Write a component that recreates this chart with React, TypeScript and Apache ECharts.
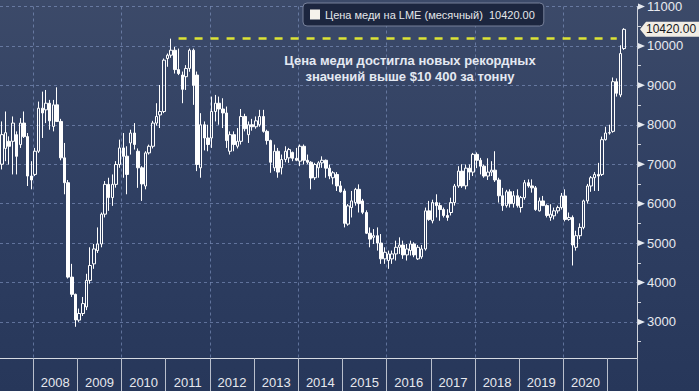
import React, { useEffect, useRef } from 'react';
import * as echarts from 'echarts';

const W = 699;
const H = 391;
const GRID = { left: -2.2, right: 62, top: 4.3, bottom: 33 };
const FONT = '"Liberation Sans", Arial, sans-serif';

// Monthly categories: April 2007 .. August 2021
const START_YEAR = 2007;
const START_MONTH = 4;
const CATEGORY_COUNT = 173;

const SERIES_NAME = 'Цена меди на LME (месячный)';
const NOTE = 'Цена меди достигла новых рекордных\nзначений выше $10 400 за тонну';
const RECORD_LEVEL = 10200;
const RECORD_FROM = '2011-04';
const RECORD_TO = '2021-03';
const Y_TICKS = [3000, 4000, 5000, 6000, 7000, 8000, 9000, 10000, 11000];

// Apr 2007 .. May 2021 (one row per year)
const open = [
  7000, 7400, 7581, 7581, 7750, 7497, 8043, 7700, 6700,
  6741, 7329, 8421, 8379, 8547, 7959, 8505, 8085, 7161, 6531, 4137, 3700,
  3045, 3213, 3381, 4053, 4473, 4809, 4977, 5733, 6489, 6153, 6489, 6993,
  7413, 7203, 7539, 7791, 7329, 6909, 6447, 7287, 7455, 8043, 8250, 8337,
  9681, 9765, 9891, 9400, 9261, 9219, 9429, 9891, 9261, 6909, 8001, 7665,
  7665, 8337, 8547, 8400, 8300, 7329, 7749, 7455, 7581, 8211, 7749, 8001,
  7950, 8001, 8211, 7833, 7600, 6909, 7329, 6909, 7119, 7161, 7300, 7150,
  7077, 7455, 7100, 7050, 6657, 6909, 7035, 7100, 6900, 6657, 6740, 6450,
  6321, 5481, 5901, 6027, 6363, 6069, 5775, 5250, 5145, 5187, 5000, 4599,
  4557, 4599, 4725, 4893, 4950, 4700, 4809, 4977, 4599, 4650, 4850, 5817,
  5565, 6027, 5950, 5850, 5700, 5775, 6027, 6447, 6825, 6450, 6900, 6800,
  7250, 7100, 6950, 6700, 6800, 6850, 6600, 6200, 5950, 6300, 6000, 6200,
  5901, 6153, 6531, 6450, 6400, 5817, 6069, 5950, 5650, 5691, 5817, 5901,
  6195, 5600, 5650, 4893, 5187, 5397, 6069, 6447, 6657, 6741, 6741, 7623,
  7791, 7833, 9093, 8757, 9933,
];
const close = [
  7750, 7800, 7455, 8043, 7200, 8043, 7700, 6700, 6600,
  7329, 8421, 8300, 8547, 8100, 8505, 8085, 7161, 6531, 4137, 3700, 3050,
  3213, 3465, 4053, 4431, 4851, 4977, 5733, 6489, 6153, 6489, 6993, 7413,
  7200, 6741, 7791, 7500, 6909, 6500, 7287, 7455, 8043, 8211, 8337, 9639,
  9765, 9891, 9400, 9300, 8900, 9429, 9891, 9000, 6993, 8001, 7665, 7500,
  8337, 8547, 8400, 8300, 7600, 7749, 7500, 7581, 8211, 7900, 8001, 7950,
  8100, 8211, 7833, 7600, 7050, 7329, 6800, 7119, 7329, 7371, 7150, 7100,
  7455, 7100, 7050, 6650, 6993, 7035, 7100, 6900, 6700, 6783, 6450, 6300,
  5500, 5943, 6069, 6363, 6000, 5780, 5250, 5100, 5187, 5000, 4600, 4767,
  4725, 4725, 4893, 4950, 4700, 4850, 4977, 4700, 4893, 4850, 5817, 5600,
  6027, 5950, 5850, 5700, 5650, 6027, 6447, 6825, 6450, 6900, 6800, 7250,
  7100, 6950, 6700, 6800, 6850, 6600, 6200, 5950, 6300, 6000, 6200, 5950,
  6153, 6531, 6450, 6400, 5850, 6069, 5950, 5700, 5733, 5817, 5900, 6195,
  5600, 5650, 4950, 5187, 5397, 6069, 6447, 6657, 6741, 6700, 7623, 7791,
  7800, 9093, 8800, 9807, 10420,
];
const low = [
  6867, 7077, 6993, 6741, 6741, 7413, 7665, 6447, 6363,
  6699, 7287, 7665, 8043, 7875, 7833, 8085, 7100, 6237, 4100, 3633, 2877,
  3000, 3150, 3300, 3969, 4347, 4750, 4893, 5650, 5817, 5943, 6405, 6909,
  6657, 6237, 7245, 7371, 6400, 6069, 6363, 7245, 7400, 7980, 7917, 8295,
  9471, 9700, 9300, 9261, 8547, 8883, 9345, 8505, 6825, 6657, 7350, 7329,
  7413, 8085, 8001, 7917, 7413, 7245, 7329, 7400, 7500, 7833, 7539, 7850,
  7900, 7950, 7800, 7497, 6783, 6825, 6657, 6741, 7050, 7035, 7077, 7077,
  6950, 6993, 7000, 6363, 6600, 6657, 6909, 6657, 6620, 6489, 6321, 6279,
  5397, 5440, 5649, 5950, 5775, 5733, 5229, 4893, 4977, 4809, 4473, 4473,
  4347, 4473, 4557, 4725, 4599, 4557, 4683, 4641, 4570, 4600, 4809, 5565,
  5500, 5649, 5565, 5649, 5565, 5700, 5950, 6400, 6400, 6363, 6600, 6700,
  6900, 6741, 6657, 6600, 6700, 6550, 6027, 5817, 5900, 5901, 5900, 5900,
  5775, 6100, 6405, 6279, 5817, 5800, 5940, 5649, 5565, 5600, 5750, 5850,
  5550, 5565, 4431, 4809, 5100, 5350, 6000, 6300, 6321, 6321, 6700, 7600,
  7750, 7800, 8715, 8700, 9900,
];
const high = [
  8085, 8337, 7707, 8211, 7833, 8169, 8337, 7791, 7077,
  7413, 8589, 8841, 8883, 8631, 8631, 8950, 8150, 7539, 6600, 4473, 3717,
  3339, 3633, 4221, 4893, 4977, 5397, 5775, 6573, 6657, 6741, 7077, 7623,
  7791, 7455, 7875, 8043, 7400, 6950, 7329, 7497, 8100, 8547, 9009, 9681,
  9807, 10185, 9975, 9933, 9350, 9513, 9933, 9933, 9350, 8295, 8085, 8001,
  8715, 8757, 8715, 8673, 8463, 7833, 7833, 7917, 8400, 8280, 8085, 8150,
  8211, 8379, 8379, 7875, 7623, 7497, 7413, 7245, 7455, 7413, 7320, 7413,
  7500, 7500, 7245, 7077, 7035, 7077, 7200, 7119, 6993, 6825, 6800, 6573,
  6380, 5990, 6321, 6400, 6489, 6120, 5830, 5397, 5355, 5397, 5229, 4893,
  4809, 4809, 5061, 5145, 5061, 4977, 5061, 5020, 4950, 4950, 5900, 6069,
  6100, 6237, 6027, 5901, 5859, 6150, 6500, 6950, 7000, 6993, 6993, 7287,
  7300, 7161, 6993, 7150, 7077, 7329, 6657, 6400, 6350, 6363, 6321, 6363,
  6195, 6600, 6615, 6615, 6447, 6153, 6195, 5985, 5985, 5900, 5950, 6270,
  6363, 5775, 5700, 5313, 5500, 6100, 6500, 6700, 6800, 7035, 7700, 7950,
  8001, 9200, 9177, 10017, 10450,
];

const categories: string[] = [];
for (let k = 0; k < CATEGORY_COUNT; k++) {
  const m = START_MONTH - 1 + k;
  const y = START_YEAR + Math.floor(m / 12);
  const mm = (m % 12) + 1;
  categories.push(`${y}-${String(mm).padStart(2, '0')}`);
}

const yearOf = (v: string) => parseInt(v.slice(0, 4), 10);
const monthOf = (v: string) => v.slice(5, 7);

export default function App() {
  const ref = useRef<HTMLDivElement>(null);

  useEffect(() => {
    if (!ref.current) return;
    const chart = echarts.init(ref.current, undefined, { renderer: 'svg', width: W, height: H });
    const candles = open.map((o, i) => [o, close[i], low[i], high[i]]);
    const last = close[close.length - 1];

    chart.setOption({
      animation: false,
      textStyle: { fontFamily: FONT },
      grid: { ...GRID, containLabel: false },
      legend: {
        show: true,
        left: 303,
        top: 3,
        selectedMode: false,
        backgroundColor: '#1c263f',
        borderColor: '#76809a',
        borderWidth: 1,
        borderRadius: 4,
        padding: [6, 9, 6, 7],
        itemWidth: 10,
        itemHeight: 10,
        itemGap: 5,
        data: [{ name: SERIES_NAME, icon: 'rect', itemStyle: { color: '#f6f2ec', borderWidth: 0 } }],
        formatter: (n: string) => `${n}  ${last.toFixed(2)}`,
        textStyle: { color: '#e4e6ea', fontSize: 11, fontFamily: FONT },
      },
      xAxis: {
        type: 'category',
        data: categories,
        boundaryGap: true,
        axisLine: { show: true, lineStyle: { color: '#d6dae2', width: 1 } },
        axisTick: {
          show: true,
          alignWithLabel: false,
          interval: (_i: number, v: string) => monthOf(v) === '01' && yearOf(v) >= 2008,
          length: 33,
          lineStyle: { color: '#b9bfcc', width: 1 },
        },
        axisLabel: {
          show: true,
          interval: (_i: number, v: string) => monthOf(v) === '07' && yearOf(v) >= 2008 && yearOf(v) <= 2020,
          formatter: (v: string) => v.slice(0, 4),
          color: '#e6e8ee',
          fontSize: 13,
          fontFamily: FONT,
          margin: 18,
          padding: [0, 3.7, 0, 0],
        },
        splitLine: {
          show: true,
          interval: (_i: number, v: string) => monthOf(v) === '01' && yearOf(v) % 2 === 0,
          lineStyle: { color: 'rgba(140,160,205,0.55)', type: [3, 3], width: 1 },
        },
      },
      yAxis: {
        type: 'value',
        position: 'right',
        min: 2085,
        max: 11000,
        splitNumber: 9,
        minInterval: 1000,
        maxInterval: 1000,
        axisLine: { show: true, lineStyle: { color: '#cfd3dc', width: 1 } },
        axisTick: { show: false },
        minorTick: { show: true, splitNumber: 2, length: 4, lineStyle: { color: '#cfd3dc' } },
        minorSplitLine: { show: false },
        axisLabel: {
          color: '#e8eaf0',
          fontSize: 13,
          fontFamily: FONT,
          margin: 10,
          showMinLabel: false,
          formatter: (v: number) => String(v),
        },
        splitLine: { show: true, lineStyle: { color: 'rgba(140,160,205,0.55)', type: [3, 3], width: 1 } },
      },
      series: [
        {
          type: 'candlestick',
          name: SERIES_NAME,
          data: candles,
          barWidth: 3,
          itemStyle: {
            color: 'transparent',
            color0: '#ffffff',
            borderColor: '#ffffff',
            borderColor0: '#ffffff',
            borderWidth: 1,
          },
          markLine: {
            silent: true,
            symbol: ['none', 'none'],
            label: { show: false },
            lineStyle: { color: '#dde334', width: 2.5, type: [8, 8] },
            data: [[{ coord: [RECORD_FROM, RECORD_LEVEL] }, { coord: [RECORD_TO, RECORD_LEVEL] }]],
          },
        },
      ],
    });

    const axisX = W - GRID.right;
    const yPix = (v: number) => chart.convertToPixel({ yAxisIndex: 0 }, v) as number;
    const tagY = yPix(last);
    const graphics: any[] = Y_TICKS.map((v) => {
      const y = yPix(v);
      return {
        type: 'polygon',
        silent: true,
        shape: { points: [[axisX + 1, y - 3], [axisX + 8, y], [axisX + 1, y + 3]] },
        style: { fill: '#e6e9ef' },
      };
    });
    graphics.push({
      type: 'polygon',
      silent: true,
      shape: {
        points: [
          [axisX + 3, tagY],
          [axisX + 9, tagY - 7.5],
          [W + 2, tagY - 7.5],
          [W + 2, tagY + 7.5],
          [axisX + 9, tagY + 7.5],
        ],
      },
      style: { fill: '#f1ede5' },
    });
    graphics.push({
      type: 'text',
      silent: true,
      x: axisX + 9,
      y: tagY,
      style: {
        text: last.toFixed(2),
        fill: '#15171c',
        font: `12px ${FONT}`,
        textVerticalAlign: 'middle',
      },
    });
    graphics.push({
      type: 'text',
      silent: true,
      x: 410,
      y: 53,
      style: {
        text: NOTE,
        fill: '#e4e9f2',
        font: `bold 13px ${FONT}`,
        textAlign: 'center',
        textVerticalAlign: 'top',
        lineHeight: 15.5,
      },
    });
    chart.setOption({ graphic: graphics });

    return () => chart.dispose();
  }, []);

  return (
    <div
      ref={ref}
      style={{
        position: 'fixed',
        left: 0,
        top: 0,
        width: W,
        height: H,
        background: 'linear-gradient(180deg, #3c4a69 0%, #2f3f62 50%, #27375a 100%)',
      }}
    />
  );
}
